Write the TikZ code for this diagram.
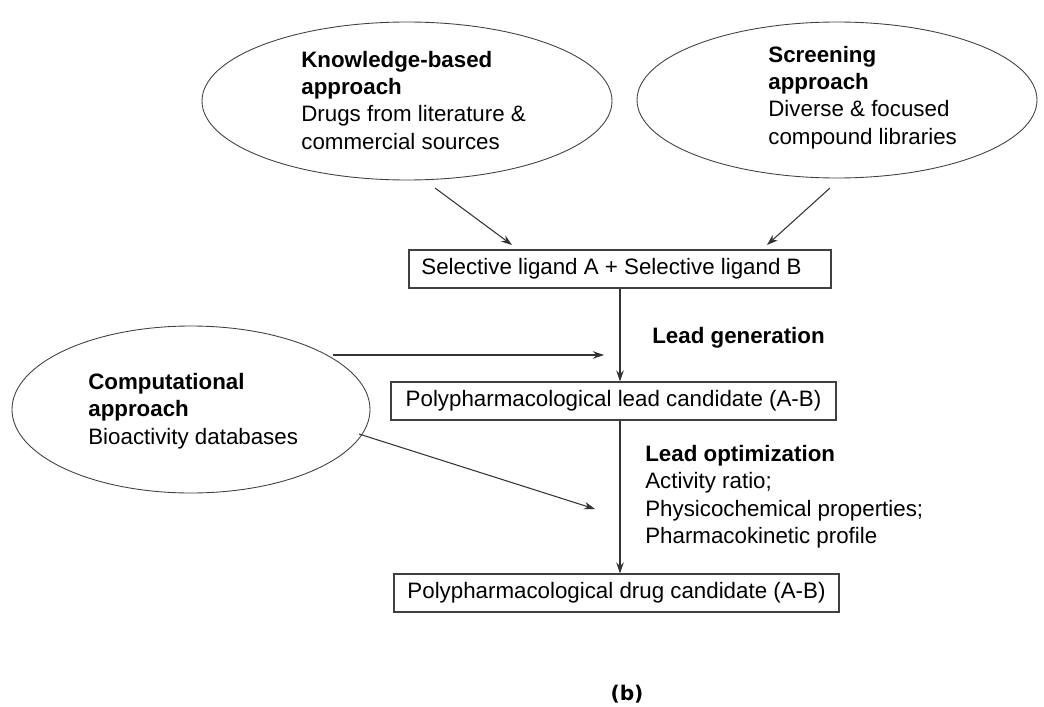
\documentclass[tikz,border=0pt]{standalone}
\usepackage{fontspec}
\setmainfont{Liberation Sans}
\newfontfamily\labelfont{DejaVu Sans}
\usetikzlibrary{arrows.meta,shapes.geometric}

\begin{document}
\begin{tikzpicture}[>={Stealth[length=2.2mm,width=1.5mm]},
  every node/.style={align=left, font=\fontsize{12.7pt}{15.5pt}\selectfont},
  approach/.style={draw=black!75, ellipse, inner sep=0pt, line width=0.5pt},
  stagebox/.style={draw=black!75, rectangle, line width=0.6pt, minimum height=0.76cm, inner sep=0pt},
  arr/.style={->, draw=black!80, line width=0.6pt}]

\useasboundingbox (0,0) rectangle (20.88,-14.12);

% Nodes
\node[approach, minimum width=8.2cm, minimum height=3.16cm] (know) at (8.14,-2.02) {};
\node[approach, minimum width=8.0cm, minimum height=3.12cm] (screen) at (16.74,-2.0) {};
\node[approach, minimum width=7.16cm, minimum height=3.34cm] (comp) at (3.82,-8.19) {};

\node[anchor=north west, inner sep=0pt] (knowtxt) at (6.02,-1.02) {\textbf{Knowledge-based}\\ \textbf{approach}\\ Drugs from literature \&\\ commercial sources};
\node[anchor=north west, inner sep=0pt] (screentxt) at (15.36,-0.92) {\textbf{Screening}\\ \textbf{approach}\\ Diverse \& focused\\ compound libraries};
\node[anchor=north west, inner sep=0pt] (comptxt) at (1.76,-7.46) {\textbf{Computational}\\ \textbf{approach}\\ Bioactivity databases};

\node[stagebox, minimum width=8.44cm] (sel) at (12.4,-5.38) {Selective ligand A + Selective ligand B\hspace*{0.34cm}};
\node[stagebox, minimum width=8.9cm] (lead) at (12.27,-8.02) {Polypharmacological lead candidate (A-B)};
\node[stagebox, minimum width=8.9cm] (drug) at (12.33,-11.86) {Polypharmacological drug candidate (A-B)};

\node[anchor=west, inner sep=0pt] (gen) at (13.04,-6.76) {\textbf{Lead generation}};
\node[anchor=north west, inner sep=0pt] (opt) at (12.9,-8.9) {\textbf{Lead optimization}\\ Activity ratio;\\ Physicochemical properties;\\ Pharmacokinetic profile};

\node[font=\labelfont\bfseries\fontsize{11.5pt}{13pt}\selectfont] (caption) at (12.54,-13.88) {(b)};

% Edges
\coordinate (kout) at (8.7,-3.76);
\coordinate (kin) at (10.24,-4.9);
\coordinate (sout) at (16.6,-3.76);
\coordinate (sin) at (15.34,-4.9);
\coordinate (cout) at (6.66,-7.1);
\coordinate (cin) at (12.08,-7.1);
\coordinate (dout) at (7.18,-8.68);
\coordinate (din) at (11.9,-10.18);

\draw[arr] (kout) -- (kin);
\draw[arr] (sout) -- (sin);
\draw[arr] (cout) -- (cin);
\draw[arr] (dout) -- (din);
\draw[arr] (sel.south) -- (sel.south |- lead.north);
\draw[arr] (sel.south |- lead.south) -- (sel.south |- drug.north);

\end{tikzpicture}
\end{document}
